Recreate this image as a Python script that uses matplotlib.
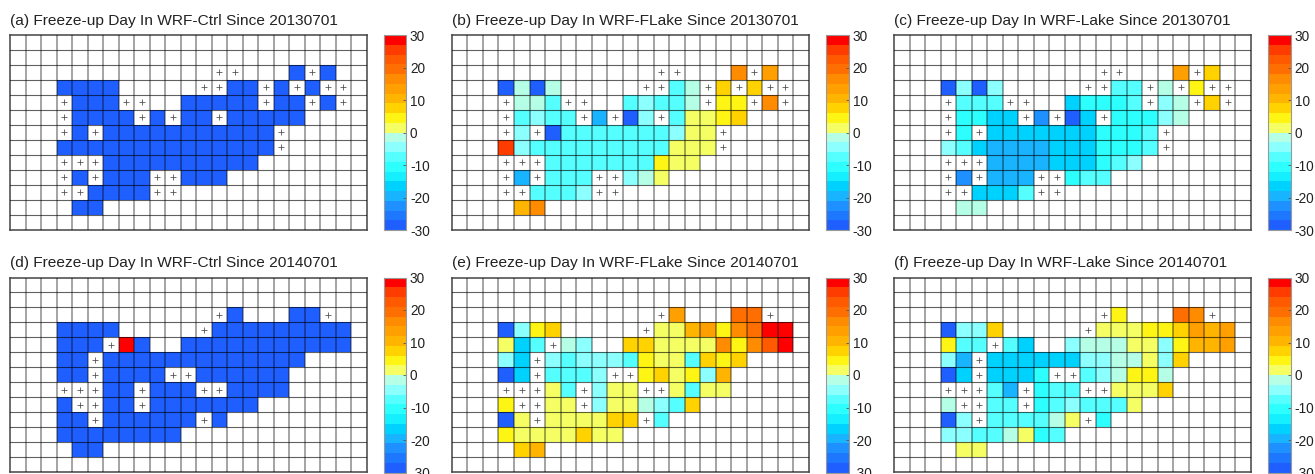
import numpy as np
import matplotlib
matplotlib.use('Agg')
import matplotlib.pyplot as plt
from matplotlib.colors import ListedColormap, BoundaryNorm

plt.rcParams['font.family'] = ['Liberation Sans', 'DejaVu Sans']
plt.rcParams['axes.unicode_minus'] = False

W, H = 1315, 474
NROW, NCOL = 13, 23

levels = np.arange(-30, 31, 3)
colors = ['#1f5fff', '#1e78ff', '#1e90ff', '#19b4ff', '#00d2ff', '#14f0ff', '#2dffff',
          '#55ffff', '#8cffff', '#b4ffe6', '#f5ff64', '#fff514', '#ffd200', '#ffb400',
          '#ffa000', '#ff8c00', '#ff6e00', '#ff5a00', '#ff3c00', '#ff0000']

titles = ['(a) Freeze-up Day In WRF-Ctrl Since 20130701',
          '(b) Freeze-up Day In WRF-FLake Since 20130701',
          '(c) Freeze-up Day In WRF-Lake Since 20130701',
          '(d) Freeze-up Day In WRF-Ctrl Since 20140701',
          '(e) Freeze-up Day In WRF-FLake Since 20140701',
          '(f) Freeze-up Day In WRF-Lake Since 20140701']

# left, right pixel edges for the three columns, top, bottom for the two rows
col_px = [(10, 366.5), (452, 808.5), (894, 1251)]
row_px = [(35, 229.5), (277.5, 472)]
cbar_px = [(383.7, 406), (826, 848.7), (1268.3, 1290.7)]

# row: {column: days}
ctrl_2013 = {
    2: {18: -28.5, 20: -28.5},
    3: {3: -28.5, 4: -28.5, 5: -28.5, 6: -28.5, 14: -28.5, 15: -28.5, 17: -28.5, 19: -28.5},
    4: {4: -28.5, 5: -28.5, 6: -28.5, 11: -28.5, 12: -28.5, 13: -28.5, 14: -28.5, 15: -28.5, 17: -28.5, 18: -28.5, 20: -28.5},
    5: {4: -28.5, 5: -28.5, 6: -28.5, 7: -28.5, 9: -28.5, 11: -28.5, 12: -28.5, 14: -28.5, 15: -28.5, 16: -28.5, 17: -28.5, 18: -28.5},
    6: {4: -28.5, 6: -28.5, 7: -28.5, 8: -28.5, 9: -28.5, 10: -28.5, 11: -28.5, 12: -28.5, 13: -28.5, 14: -28.5, 15: -28.5, 16: -28.5},
    7: {3: -28.5, 4: -28.5, 5: -28.5, 6: -28.5, 7: -28.5, 8: -28.5, 9: -28.5, 10: -28.5, 11: -28.5, 12: -28.5, 13: -28.5, 14: -28.5, 15: -28.5, 16: -28.5},
    8: {6: -28.5, 7: -28.5, 8: -28.5, 9: -28.5, 10: -28.5, 11: -28.5, 12: -28.5, 13: -28.5, 14: -28.5, 15: -28.5},
    9: {4: -28.5, 6: -28.5, 7: -28.5, 8: -28.5, 11: -28.5, 12: -28.5, 13: -28.5},
    10: {5: -28.5, 6: -28.5, 7: -28.5, 8: -28.5},
    11: {4: -28.5, 5: -28.5},
}
flake_2013 = {
    2: {18: 16.5, 20: 13.5},
    3: {3: -28.5, 4: -1.5, 5: -28.5, 6: -1.5, 14: -7.5, 15: -1.5, 17: 7.5, 19: 7.5},
    4: {4: -1.5, 5: -1.5, 6: -7.5, 11: -7.5, 12: -4.5, 13: -7.5, 14: -7.5, 15: -1.5, 17: 4.5, 18: 4.5, 20: 16.5},
    5: {4: -7.5, 5: -4.5, 6: -7.5, 7: -7.5, 9: -19.5, 11: -28.5, 12: -4.5, 14: -7.5, 15: 1.5, 16: 1.5, 17: 4.5, 18: 7.5},
    6: {4: -4.5, 6: -28.5, 7: -7.5, 8: -7.5, 9: -7.5, 10: -7.5, 11: -7.5, 12: -7.5, 13: -7.5, 14: -4.5, 15: 1.5, 16: 1.5},
    7: {3: 25.5, 4: -4.5, 5: -7.5, 6: -7.5, 7: -7.5, 8: -7.5, 9: -7.5, 10: -7.5, 11: -7.5, 12: -7.5, 13: -7.5, 14: 1.5, 15: 1.5, 16: 1.5},
    8: {6: -7.5, 7: -7.5, 8: -7.5, 9: -7.5, 10: -7.5, 11: -7.5, 12: -7.5, 13: 4.5, 14: 1.5, 15: 1.5},
    9: {4: -19.5, 6: -7.5, 7: -7.5, 8: -7.5, 11: -4.5, 12: -1.5, 13: 1.5},
    10: {5: -7.5, 6: -7.5, 7: -7.5, 8: -4.5},
    11: {4: 10.5, 5: 16.5},
}
lake_2013 = {
    2: {18: 13.5, 20: 7.5},
    3: {3: -28.5, 4: -4.5, 5: -28.5, 6: -4.5, 14: -7.5, 15: -7.5, 17: -1.5, 19: 4.5},
    4: {4: -7.5, 5: -7.5, 6: -7.5, 11: -16.5, 12: -10.5, 13: -10.5, 14: -10.5, 15: -7.5, 17: -4.5, 18: -1.5, 20: 7.5},
    5: {4: -10.5, 5: -10.5, 6: -16.5, 7: -16.5, 9: -22.5, 11: -28.5, 12: -16.5, 14: -10.5, 15: -10.5, 16: -10.5, 17: -4.5, 18: -1.5},
    6: {4: -10.5, 6: -16.5, 7: -16.5, 8: -16.5, 9: -16.5, 10: -16.5, 11: -16.5, 12: -16.5, 13: -10.5, 14: -10.5, 15: -10.5, 16: -7.5},
    7: {3: -4.5, 4: -7.5, 5: -16.5, 6: -19.5, 7: -19.5, 8: -19.5, 9: -19.5, 10: -16.5, 11: -16.5, 12: -16.5, 13: -10.5, 14: -10.5, 15: -10.5, 16: -7.5},
    8: {6: -19.5, 7: -19.5, 8: -19.5, 9: -19.5, 10: -16.5, 11: -16.5, 12: -16.5, 13: -10.5, 14: -7.5, 15: -4.5},
    9: {4: -22.5, 6: -19.5, 7: -19.5, 8: -19.5, 11: -10.5, 12: -7.5, 13: -7.5},
    10: {5: -16.5, 6: -16.5, 7: -16.5, 8: -7.5},
    11: {4: -1.5, 5: -1.5},
}
ctrl_2014 = {
    2: {14: -28.5, 18: -28.5, 19: -28.5},
    3: {3: -28.5, 4: -28.5, 5: -28.5, 6: -28.5, 13: -28.5, 14: -28.5, 15: -28.5, 16: -28.5, 17: -28.5, 18: -28.5, 19: -28.5, 20: -28.5, 21: -28.5},
    4: {3: -28.5, 4: -28.5, 5: -28.5, 7: 28.5, 8: -28.5, 11: -28.5, 12: -28.5, 13: -28.5, 14: -28.5, 15: -28.5, 16: -28.5, 17: -28.5, 18: -28.5, 19: -28.5, 20: -28.5, 21: -28.5},
    5: {3: -28.5, 4: -28.5, 6: -28.5, 7: -28.5, 8: -28.5, 9: -28.5, 10: -28.5, 11: -28.5, 12: -28.5, 13: -28.5, 14: -28.5, 15: -28.5, 16: -28.5, 17: -28.5, 18: -28.5},
    6: {3: -28.5, 4: -28.5, 6: -28.5, 7: -28.5, 8: -28.5, 9: -28.5, 12: -28.5, 13: -28.5, 14: -28.5, 15: -28.5, 16: -28.5, 17: -28.5},
    7: {6: -28.5, 7: -28.5, 9: -28.5, 10: -28.5, 11: -28.5, 14: -28.5, 15: -28.5, 16: -28.5, 17: -28.5},
    8: {3: -28.5, 6: -28.5, 7: -28.5, 9: -28.5, 10: -28.5, 11: -28.5, 12: -28.5, 13: -28.5, 14: -28.5, 15: -28.5},
    9: {3: -28.5, 4: -28.5, 6: -28.5, 7: -28.5, 8: -28.5, 9: -28.5, 10: -28.5, 11: -28.5, 13: -28.5},
    10: {3: -28.5, 4: -28.5, 5: -28.5, 6: -28.5, 7: -28.5, 8: -28.5, 9: -28.5, 10: -28.5},
    11: {4: -28.5, 5: -28.5},
}
flake_2014 = {
    2: {14: 13.5, 18: 19.5, 19: 19.5},
    3: {3: -28.5, 4: -4.5, 5: 4.5, 6: 7.5, 13: 1.5, 14: 1.5, 15: 10.5, 16: 13.5, 17: 4.5, 18: 16.5, 19: 19.5, 20: 28.5, 21: 28.5},
    4: {3: 1.5, 4: -16.5, 5: -7.5, 7: -1.5, 8: -4.5, 11: 7.5, 12: 7.5, 13: 1.5, 14: 1.5, 15: 1.5, 16: 1.5, 17: 16.5, 18: 4.5, 19: 16.5, 20: 22.5, 21: 28.5},
    5: {3: -4.5, 4: -16.5, 6: -4.5, 7: -7.5, 8: -4.5, 9: -4.5, 10: -4.5, 11: -7.5, 12: 4.5, 13: 1.5, 14: 1.5, 15: -7.5, 16: 7.5, 17: 4.5, 18: 7.5},
    6: {3: -28.5, 4: -16.5, 6: -7.5, 7: -7.5, 8: -7.5, 9: -4.5, 12: 4.5, 13: 7.5, 14: 1.5, 15: 4.5, 16: -4.5, 17: 10.5},
    7: {6: 1.5, 7: -7.5, 9: -4.5, 10: 1.5, 11: 1.5, 14: 1.5, 15: -7.5, 16: 1.5, 17: 1.5},
    8: {3: 4.5, 6: 1.5, 7: 1.5, 9: -4.5, 10: 1.5, 11: 1.5, 12: -1.5, 13: -4.5, 14: -7.5, 15: 7.5},
    9: {3: -28.5, 4: 1.5, 6: 1.5, 7: 1.5, 8: 1.5, 9: 1.5, 10: 7.5, 11: 7.5, 13: -7.5},
    10: {3: 4.5, 4: 1.5, 5: 1.5, 6: 1.5, 7: 1.5, 8: 7.5, 9: 1.5, 10: 1.5},
    11: {4: 7.5, 5: 10.5},
}
lake_2014 = {
    2: {14: 4.5, 18: 19.5, 19: 16.5},
    3: {3: -28.5, 4: -4.5, 5: -4.5, 6: 7.5, 13: 1.5, 14: 1.5, 15: 1.5, 16: 4.5, 17: 4.5, 18: 7.5, 19: 13.5, 20: 10.5, 21: 13.5},
    4: {3: 4.5, 4: -7.5, 5: -7.5, 7: -7.5, 8: -16.5, 11: -4.5, 12: -1.5, 13: -1.5, 14: -1.5, 15: 1.5, 16: 1.5, 17: -4.5, 18: 4.5, 19: 10.5, 20: 10.5, 21: 13.5},
    5: {3: -4.5, 4: -19.5, 6: -16.5, 7: -16.5, 8: -16.5, 9: -16.5, 10: -16.5, 11: -16.5, 12: -4.5, 13: -4.5, 14: -1.5, 15: -1.5, 16: 1.5, 17: -4.5, 18: 7.5},
    6: {3: -28.5, 4: -16.5, 6: -16.5, 7: -16.5, 8: -16.5, 9: -10.5, 12: -7.5, 13: -4.5, 14: -1.5, 15: 4.5, 16: 4.5, 17: -1.5},
    7: {6: -7.5, 7: -19.5, 9: -10.5, 10: -7.5, 11: -7.5, 14: 1.5, 15: 1.5, 16: 1.5, 17: 7.5},
    8: {3: -1.5, 6: -7.5, 7: -7.5, 9: -10.5, 10: -7.5, 11: -4.5, 12: -7.5, 13: -7.5, 14: -7.5, 15: 1.5},
    9: {3: -28.5, 4: -4.5, 6: -7.5, 7: -7.5, 8: -7.5, 9: -7.5, 10: -1.5, 11: 1.5, 13: -10.5},
    10: {3: -4.5, 4: -4.5, 5: -7.5, 6: -7.5, 7: -1.5, 8: 1.5, 9: -10.5, 10: -7.5},
    11: {4: 1.5, 5: 1.5},
}

# cells marked with a plus
plus_2013 = {2: [13, 14, 19], 3: [12, 13, 16, 18, 20, 21], 4: [3, 7, 8, 16, 19, 21],
             5: [3, 8, 10, 13], 6: [3, 5, 17], 7: [17], 8: [3, 4, 5],
             9: [3, 5, 9, 10], 10: [3, 4, 9, 10]}
plus_2014 = {2: [13, 20], 3: [12], 4: [6], 5: [5], 6: [5, 10, 11],
             7: [3, 4, 5, 8, 12, 13], 8: [4, 5, 8], 9: [5, 12]}

panels = [ctrl_2013, flake_2013, lake_2013, ctrl_2014, flake_2014, lake_2014]
pluses = [plus_2013, plus_2013, plus_2013, plus_2014, plus_2014, plus_2014]

cmap = ListedColormap(colors)
norm = BoundaryNorm(levels, cmap.N)


def to_grid(cells):
    grid = np.full((NROW, NCOL), np.nan)
    for r, row in cells.items():
        for c, v in row.items():
            grid[r, c] = v
    return grid


def add_axes(x0, x1, y0, y1):
    return fig.add_axes([x0 / W, 1 - y1 / H, (x1 - x0) / W, (y1 - y0) / H])


fig = plt.figure(figsize=(W / 100, H / 100), dpi=100)

for i, cells in enumerate(panels):
    x0, x1 = col_px[i % 3]
    y0, y1 = row_px[i // 3]
    ax = add_axes(x0, x1, y0, y1)
    mesh = ax.pcolormesh(np.arange(NCOL + 1), np.arange(NROW + 1), to_grid(cells), cmap=cmap, norm=norm)
    ax.set_xlim(0, NCOL)
    ax.set_ylim(NROW, 0)
    # lake grid, see-through so it darkens the coloured cells
    for c in range(1, NCOL):
        ax.axvline(c, color='black', alpha=0.42, lw=1.2, zorder=3)
    for r in range(1, NROW):
        ax.axhline(r, color='black', alpha=0.62, lw=0.8, zorder=3)
    xs = [c + 0.5 for r, cols in pluses[i].items() for c in cols]
    ys = [r + 0.5 for r, cols in pluses[i].items() for c in cols]
    ax.scatter(xs, ys, marker='+', s=18, color='#555555', linewidths=0.6, zorder=4)
    ax.set_xticks([])
    ax.set_yticks([])
    for s in ax.spines.values():
        s.set_color('#444444')
        s.set_linewidth(1.1)
    ax.text(0, -0.5, titles[i], fontsize=11.15, color='#222222', ha='left', va='bottom')

    cx0, cx1 = cbar_px[i % 3]
    cax = add_axes(cx0, cx1, y0, y1 + 0.5)
    cb = fig.colorbar(mesh, cax=cax, ticks=np.arange(-30, 31, 10), spacing='proportional')
    cb.dividers.set_visible(False)
    cb.outline.set_edgecolor('#999999')
    cb.outline.set_linewidth(0.8)
    cb.ax.tick_params(labelsize=9.8, length=2, width=0.6, direction='in', color='#555555', pad=2.8, labelcolor='#222222')
    cb.ax.minorticks_off()

fig.savefig('out.png', dpi=100)
